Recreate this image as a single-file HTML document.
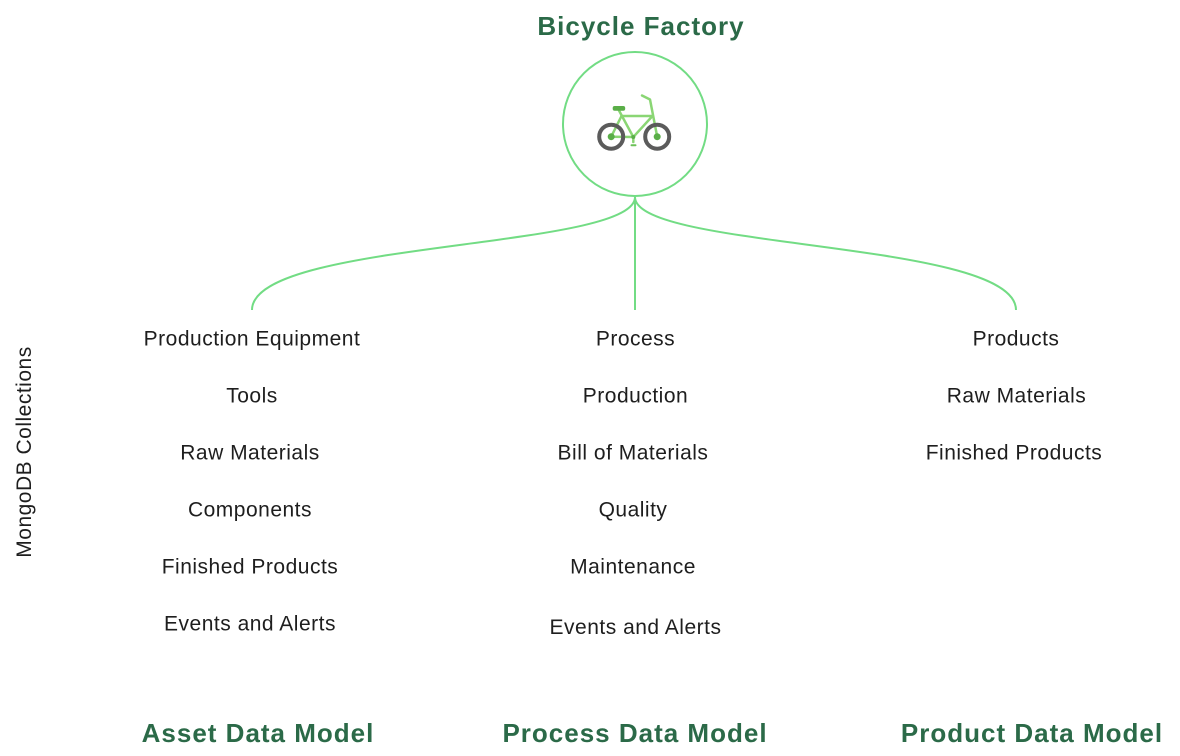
<!DOCTYPE html>
<html>
<head>
<meta charset="utf-8">
<style>
  html, body { margin: 0; padding: 0; background: #ffffff; }
  body { width: 1180px; height: 756px; overflow: hidden; }
  svg { display: block; }
  .t { font-family: "Liberation Sans", sans-serif; font-size: 21px; fill: #1e1e1e; letter-spacing: 0.5px; }
  .h { font-family: "Liberation Sans", sans-serif; font-size: 26px; font-weight: bold; fill: #2b6a48; letter-spacing: 1px; }
</style>
</head>
<body>
<svg width="1180" height="756" viewBox="0 0 1180 756" xmlns="http://www.w3.org/2000/svg">
  <!-- Title -->
  <text class="h" x="641" y="35" text-anchor="middle">Bicycle Factory</text>

  <!-- Circle -->
  <circle cx="635" cy="124" r="72" fill="none" stroke="#72dc84" stroke-width="2"/>

  <!-- Bicycle icon -->
  <g stroke-linecap="round" stroke-linejoin="round">
    <g stroke="#8ad674" stroke-width="2.5" fill="none">
      <line x1="619" y1="110.5" x2="633.3" y2="137"/>
      <line x1="621.5" y1="116" x2="652.5" y2="116"/>
      <line x1="652.5" y1="116" x2="633.3" y2="137"/>
      <line x1="611.2" y1="136.7" x2="633.3" y2="137"/>
      <line x1="611.2" y1="136.7" x2="621.5" y2="116"/>
      <polyline points="642,95.5 650,99.5 657.2,136.7"/>
      <line x1="633.3" y1="137" x2="633.3" y2="142"/>
    </g>
    <circle cx="611.2" cy="136.7" r="12" fill="none" stroke="#5b5b5b" stroke-width="4"/>
    <circle cx="657.2" cy="136.7" r="12" fill="none" stroke="#5b5b5b" stroke-width="4"/>
    <circle cx="611.2" cy="136.7" r="3.5" fill="#5aae48"/>
    <circle cx="657.2" cy="136.7" r="3.5" fill="#5aae48"/>
    <circle cx="633.3" cy="137" r="2" fill="#5aae48"/>
    <rect x="612.7" y="106" width="12.5" height="4.7" rx="2" fill="#5aae48"/>
    <rect x="630.5" y="144.3" width="6" height="2" rx="1" fill="#6cc158"/>
  </g>

  <!-- Connectors -->
  <g fill="none" stroke="#72dc84" stroke-width="2">
    <line x1="635" y1="197" x2="635" y2="310"/>
    <path d="M635,197 C635,250 252,240 252,310"/>
    <path d="M635,197 C635,250 1016,240 1016,310"/>
  </g>

  <!-- Vertical label -->
  <text class="t" transform="translate(31,452) rotate(-90)" text-anchor="middle">MongoDB Collections</text>

  <!-- Left column -->
  <text class="t" x="252" y="345.5" text-anchor="middle">Production Equipment</text>
  <text class="t" x="252" y="402.5" text-anchor="middle">Tools</text>
  <text class="t" x="250" y="459.5" text-anchor="middle">Raw Materials</text>
  <text class="t" x="250" y="516.5" text-anchor="middle">Components</text>
  <text class="t" x="250" y="573.5" text-anchor="middle">Finished Products</text>
  <text class="t" x="250" y="630.5" text-anchor="middle">Events and Alerts</text>

  <!-- Middle column -->
  <text class="t" x="635.5" y="345.5" text-anchor="middle">Process</text>
  <text class="t" x="635.5" y="402.5" text-anchor="middle">Production</text>
  <text class="t" x="633" y="459.5" text-anchor="middle">Bill of Materials</text>
  <text class="t" x="633" y="516.5" text-anchor="middle">Quality</text>
  <text class="t" x="633" y="573.5" text-anchor="middle">Maintenance</text>
  <text class="t" x="635.5" y="634" text-anchor="middle">Events and Alerts</text>

  <!-- Right column -->
  <text class="t" x="1016" y="345.5" text-anchor="middle">Products</text>
  <text class="t" x="1016.5" y="402.5" text-anchor="middle">Raw Materials</text>
  <text class="t" x="1014" y="459.5" text-anchor="middle">Finished Products</text>

  <!-- Bottom titles -->
  <text class="h" x="258" y="742" text-anchor="middle">Asset Data Model</text>
  <text class="h" x="635" y="742" text-anchor="middle">Process Data Model</text>
  <text class="h" x="1032" y="742" text-anchor="middle">Product Data Model</text>
</svg>
</body>
</html>
